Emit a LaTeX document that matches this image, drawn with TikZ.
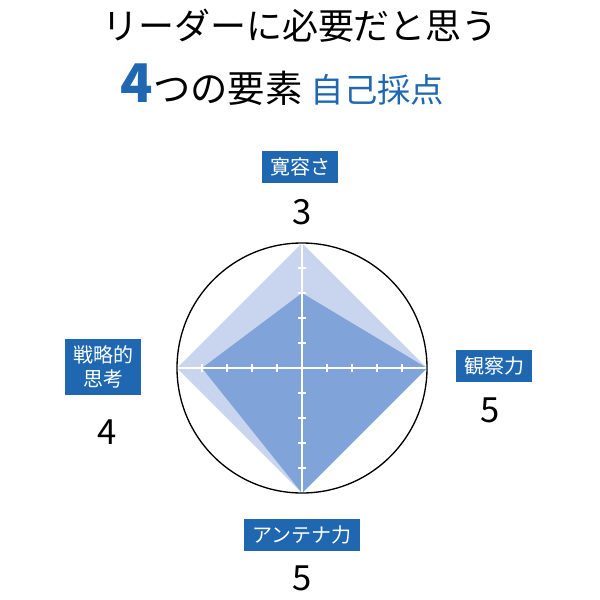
\documentclass[tikz,border=0pt]{standalone}
\usepackage{fontspec}
\newfontfamily\jp{Noto Sans CJK JP}
\definecolor{boxblue}{HTML}{1F67B1}
\definecolor{light}{HTML}{C9D5EE}
\definecolor{dark}{HTML}{80A4DA}
\begin{document}
\begin{tikzpicture}[x=0.75pt,y=-0.75pt,
  lab/.style={fill=boxblue,text=white,font=\jp\fontsize{15}{18}\selectfont,inner xsep=6pt,inner ysep=5pt,align=center},
  num/.style={font=\jp\fontsize{26}{28}\selectfont}]
\useasboundingbox (0,0) rectangle (600,600);
\node[font=\jp\fontsize{27}{30}\selectfont] (t1) at (300,26) {リーダーに必要だと思う};
\node[font=\jp\fontsize{28}{30}\selectfont,anchor=west] (t2) at (116,85) {\textcolor{boxblue}{\bfseries\fontsize{40}{40}\selectfont 4}つの要素 \textcolor{boxblue}{\fontsize{25}{28}\selectfont 自己採点}};
\fill[light] (302,243) -- (427,368) -- (302,493) -- (177,368) -- cycle;
\fill[dark] (302,293) -- (427,368) -- (302,493) -- (202,368) -- cycle;
\draw[white,line width=1pt] (302,243) -- (302,493) (177,368) -- (427,368);
\foreach \i in {-4,...,4}{
  \draw[white,line width=0.8pt] (302+25*\i,364) -- (302+25*\i,372);
  \draw[white,line width=0.8pt] (298,368+25*\i) -- (306,368+25*\i);}
\draw[black,line width=1pt] (302,368) circle[radius=125];
\node[lab] (a) at (300,167) {寛容さ};
\node[num] (an) at (302,212) {3};
\node[lab] (b) at (494,366) {観察力};
\node[num] (bn) at (490,410) {5};
\node[lab] (c) at (103,367) {戦略的\\思考};
\node[num] (cn) at (107,432) {4};
\node[lab] (d) at (302,535) {アンテナ力};
\node[num] (dn) at (302,578) {5};
\end{tikzpicture}
\end{document}
